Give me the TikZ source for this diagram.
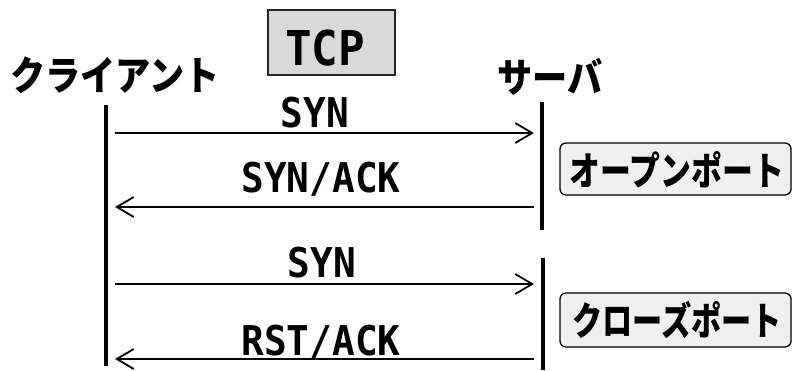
\documentclass[tikz,border=0pt]{standalone}
\usepackage{fontspec}
\usetikzlibrary{arrows.meta}
\newfontfamily\jpfont[FakeStretch=0.88]{Noto Sans CJK JP}
\newfontfamily\latfont[FakeStretch=0.92]{DejaVu Sans Mono}
\tikzset{
  lifeline/.style={line width=3.5pt},
  msg/.style={line width=1.8pt, -{Straight Barb[length=17pt,width=20pt,line width=1.8pt]}},
  msglabel/.style={font=\latfont\bfseries\fontsize{41}{41}\selectfont, inner sep=0pt, anchor=base},
  actor/.style={font=\jpfont\bfseries\fontsize{40}{40}\selectfont, inner sep=0pt},
  portbox/.style={draw=black, line width=1.3pt, fill=black!6, rounded corners=6pt},
  porttext/.style={font=\jpfont\bfseries\fontsize{39}{39}\selectfont, inner sep=0pt},
}
\begin{document}
\begin{tikzpicture}[x=1pt,y=-1pt]
  \useasboundingbox (0,0) rectangle (793,370);

  % protocol title
  \node[draw=black!85, line width=1.5pt, fill=black!15, minimum width=127pt, minimum height=65pt,
        inner sep=0pt] (tcp) at (331.5,42.5) {};
  \node[msglabel, font=\latfont\bfseries\fontsize{48}{48}\selectfont] (tcplabel) at (325,65) {TCP};

  % actors
  \node[actor] (client) at (115,75) {クライアント};
  \node[actor] (server) at (550,77) {サーバ};

  % lifelines
  \coordinate (ctop) at (106,105);
  \coordinate (cbot) at (106,366);
  \coordinate (s1top) at (542,102);
  \coordinate (s1bot) at (542,230);
  \coordinate (s2top) at (543,258);
  \coordinate (s2bot) at (543,370);
  \draw[lifeline] (ctop) -- (cbot);
  \draw[lifeline] (s1top) -- (s1bot);
  \draw[lifeline] (s2top) -- (s2bot);

  % message end points
  \coordinate (m1a) at (115,133); \coordinate (m1b) at (534,133);
  \coordinate (m2a) at (534,207); \coordinate (m2b) at (115,207);
  \coordinate (m3a) at (115,284); \coordinate (m3b) at (534,284);
  \coordinate (m4a) at (534,359); \coordinate (m4b) at (115,359);

  \draw[msg] (m1a) -- (m1b);
  \draw[msg] (m2a) -- (m2b);
  \draw[msg] (m3a) -- (m3b);
  \draw[msg] (m4a) -- (m4b);

  \node[msglabel] (l1) at (315,127) {SYN};
  \node[msglabel] (l2) at (321,192) {SYN/ACK};
  \node[msglabel] (l3) at (322,277) {SYN};
  \node[msglabel] (l4) at (321,355) {RST/ACK};

  % port states
  \node[portbox, minimum width=231pt, minimum height=52pt, inner sep=0pt] (open) at (675.5,169) {};
  \node[porttext] (opentext) at (677,170) {\scalebox{0.9}[1]{オープンポート}};
  \node[portbox, minimum width=231pt, minimum height=54pt, inner sep=0pt] (closed) at (675.5,320) {};
  \node[porttext] (closedtext) at (677,320) {\scalebox{0.88}[1]{クローズポート}};
\end{tikzpicture}
\end{document}
